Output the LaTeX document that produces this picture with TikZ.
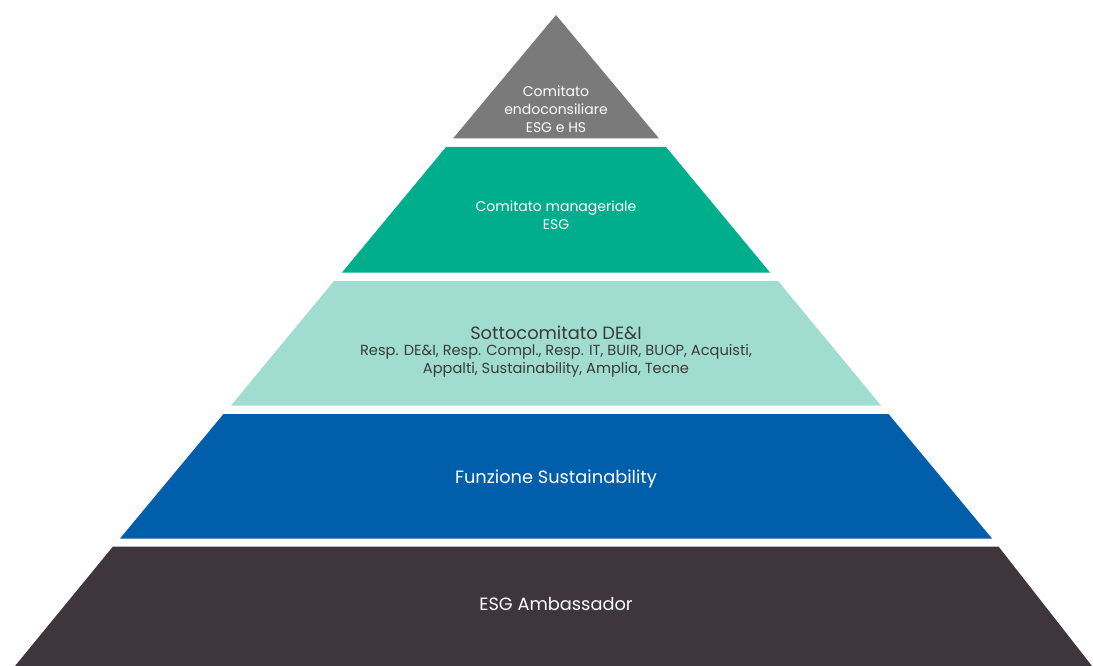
\documentclass[tikz,border=0pt]{standalone}
\usepackage{fontspec}
\setmainfont{Poppins}
\usetikzlibrary{positioning}
\definecolor{topgray}{HTML}{7A7A7A}
\definecolor{esgteal}{HTML}{00AE8D}
\definecolor{lightteal}{HTML}{A0DDD0}
\definecolor{esgblue}{HTML}{005EAA}
\definecolor{basedark}{HTML}{3E363A}
\definecolor{textdark}{HTML}{3A3A3A}
\tikzset{
  lab/.style={align=center,text=white,inner sep=0pt,font=\fontsize{14}{17.8}\selectfont},
  bigLab/.style={lab,font=\fontsize{17.8}{20}\selectfont}
}
\begin{document}
\begin{tikzpicture}[x=1pt,y=-1pt]
        \useasboundingbox (0,0) rectangle (1093,666);

        \coordinate (A) at (556,15);
        \coordinate (B) at (453,138.5);
        \coordinate (C) at (659,138.5);

        \coordinate (D) at (446,147);
        \coordinate (E) at (666,147);
        \coordinate (F) at (342,272.5);
        \coordinate (G) at (770,272.5);

        \coordinate (H) at (334,281);
        \coordinate (I) at (778,281);
        \coordinate (J) at (231,405.5);
        \coordinate (K) at (881,405.5);

        \coordinate (L) at (223.5,414);
        \coordinate (M) at (888.5,414);
        \coordinate (N) at (120,538.5);
        \coordinate (O) at (992,538.5);

        \coordinate (P) at (113,546.5);
        \coordinate (Q) at (998.5,546.5);
        \coordinate (R) at (15,666);
        \coordinate (S) at (1092,666);

        \fill[topgray] (A) -- (B) -- (C) -- cycle;
        \fill[esgteal] (D) -- (E) -- (G) -- (F) -- cycle;
        \fill[lightteal] (H) -- (I) -- (K) -- (J) -- cycle;
        \fill[esgblue] (L) -- (M) -- (O) -- (N) -- cycle;
        \fill[basedark] (P) -- (Q) -- (S) -- (R) -- cycle;

        \node[lab] (board) at (556,109) {Comitato\\endoconsiliare\\ESG e HS};
        \node[lab] (mgmt) at (556,215) {Comitato manageriale\\ESG};
        \node[bigLab,text=textdark] (subcom) at (556,333) {Sottocomitato DE\&I};
        \node[lab,text=textdark,font=\fontsize{14.6}{17.5}\selectfont] (members) at (556,361) {Resp. DE\&I, Resp. Compl., Resp. IT, BUIR, BUOP, Acquisti,\\Appalti, Sustainability, Amplia, Tecne};
        \node[bigLab] (funz) at (556,479) {Funzione Sustainability};
        \node[bigLab] (amb) at (556,604) {ESG Ambassador};
\end{tikzpicture}
\end{document}
